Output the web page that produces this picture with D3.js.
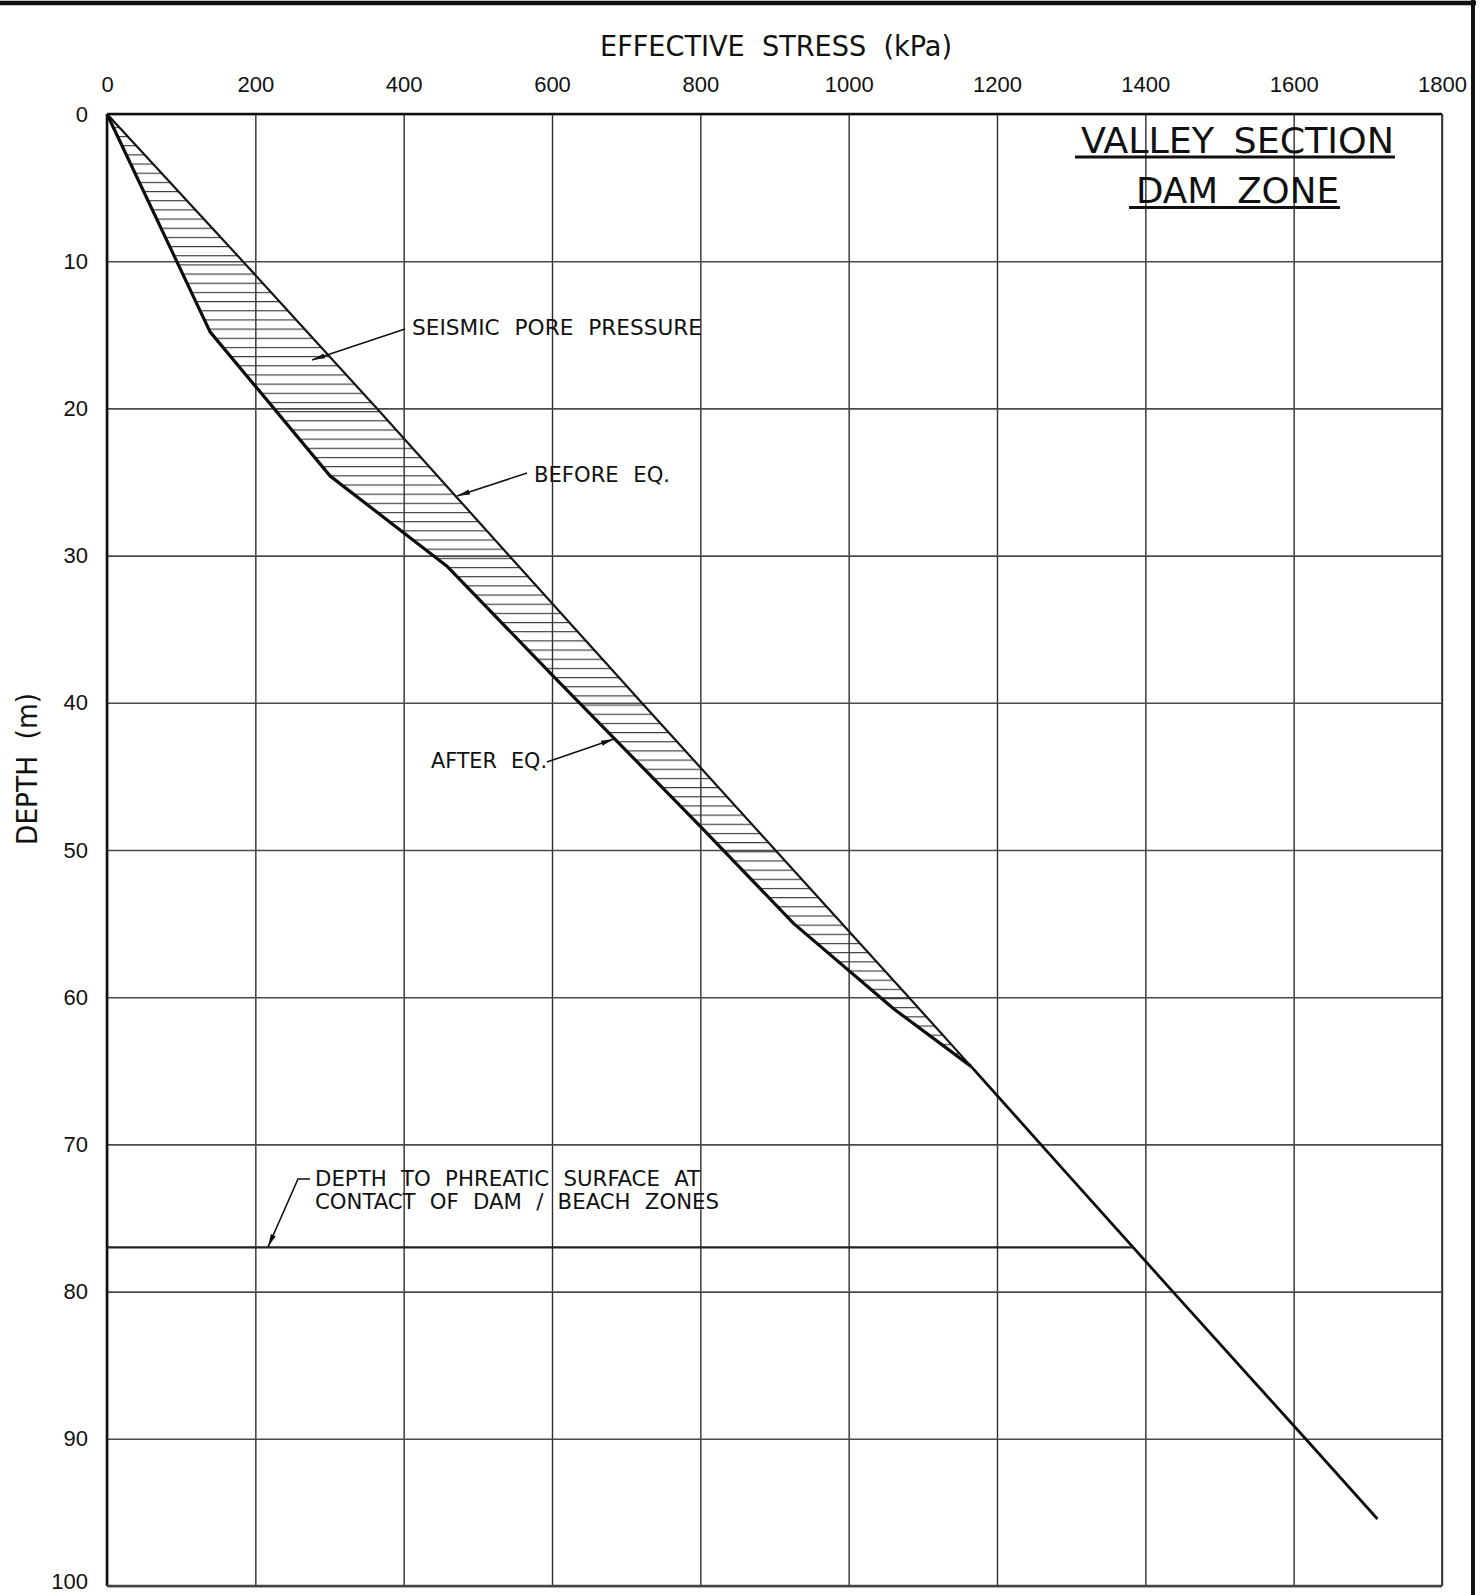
<!DOCTYPE html>
<html>
<head>
<meta charset="utf-8">
<script src="https://cdn.jsdelivr.net/npm/d3@7"></script>
<style>
  body { margin: 0; background: #fff; }
  svg { display: block; }
  .tick text { font-family: "Liberation Sans", Arial, sans-serif; font-size: 22px; fill: #111; }
  .note { font-family: "Liberation Sans Narrow", "DejaVu Sans Condensed", "Liberation Sans", sans-serif; fill: #111; }
</style>
</head>
<body>
<div id="chart-container"></div>
<script>
// axis ticks
const xTicks = [0, 200, 400, 600, 800, 1000, 1200, 1400, 1600, 1800];
const yTicks = [0, 10, 20, 30, 40, 50, 60, 70, 80, 90, 100];

// effective stress before the earthquake (depth m, kPa)
const beforeDepth = [0, 10, 20, 30, 40, 50, 60, 64.7];
const beforeStress = [0, 183, 364, 542, 721, 901, 1081, 1165];

// effective stress after the earthquake
const afterDepth = [0, 14.8, 24.6, 30.7, 38.2, 48.4, 55.0, 60.8, 64.7];
const afterStress = [0, 139, 301, 458, 602, 800, 926, 1061, 1165];

// common line below 64.7 m
const lowerDepth = [64.7, 70, 80, 90, 95.45];
const lowerStress = [1165, 1259, 1437, 1616, 1713];

// phreatic surface at contact of dam / beach zones
const phreaticDepth = 77;
const phreaticStress = 1383;

let width = 1481;
let height = 1595;

var svg = d3
  .select("#chart-container")
  .append("svg")
  .attr("width", width)
  .attr("height", height);

let xScale = d3.scaleLinear().domain([0, 1800]).range([107, 1442]);
let yScale = d3.scaleLinear().domain([0, 100]).range([114, 1586]);

let plotW = xScale(1800) - xScale(0);
let plotH = yScale(100) - yScale(0);

// hatch pattern for the seismic pore pressure band
svg
  .append("defs")
  .append("pattern")
  .attr("id", "hatch")
  .attr("patternUnits", "userSpaceOnUse")
  .attr("width", 40)
  .attr("height", 9.17)
  .attr("y", 7.6)
  .append("line")
  .attr("x1", 0)
  .attr("x2", 40)
  .attr("y1", 0.6)
  .attr("y2", 0.6)
  .attr("stroke", "#3a3a3a")
  .attr("stroke-width", 1.1);

// page frame
svg.append("line").attr("x1", 0).attr("x2", 1476).attr("y1", 3).attr("y2", 3)
  .attr("stroke", "#111").attr("stroke-width", 4.5);
svg.append("line").attr("x1", 1473).attr("x2", 1473).attr("y1", 0).attr("y2", height)
  .attr("stroke", "#111").attr("stroke-width", 4);

// X axis on top with vertical grid lines
let gx = svg
  .append("g")
  .attr("id", "x-axis")
  .attr("transform", "translate(0," + yScale(0) + ")")
  .call(d3.axisTop(xScale).tickValues(xTicks).tickFormat((d) => d).tickSize(-plotH).tickPadding(22));
gx.select(".domain").remove();
gx.selectAll(".tick line").attr("stroke", "#2e2e2e").attr("stroke-width", 1.4);

// Y axis with horizontal grid lines
let gy = svg
  .append("g")
  .attr("id", "y-axis")
  .attr("transform", "translate(" + xScale(0) + ",0)")
  .call(d3.axisLeft(yScale).tickValues(yTicks).tickFormat((d) => d).tickSize(-plotW).tickPadding(19));
gy.select(".domain").remove();
gy.selectAll(".tick line").attr("stroke", "#4a4a4a").attr("stroke-width", 1.6);
// last label sits on the page edge, lift it a little
gy.selectAll(".tick text").filter((d) => d === 100).attr("dy", "0.1em");

// plot frame
svg.append("line").attr("x1", xScale(0)).attr("x2", xScale(0)).attr("y1", yScale(0)).attr("y2", yScale(100))
  .attr("stroke", "#111").attr("stroke-width", 2.6);
svg.append("line").attr("x1", xScale(0)).attr("x2", xScale(1800)).attr("y1", yScale(0)).attr("y2", yScale(0))
  .attr("stroke", "#111").attr("stroke-width", 2.6);
svg.append("line").attr("x1", xScale(0)).attr("x2", xScale(1800)).attr("y1", yScale(100)).attr("y2", yScale(100))
  .attr("stroke", "#444").attr("stroke-width", 2.4);
svg.append("line").attr("x1", xScale(1800)).attr("x2", xScale(1800)).attr("y1", yScale(0)).attr("y2", yScale(100))
  .attr("stroke", "#333").attr("stroke-width", 1.6);

// axis titles
svg.append("text").attr("class", "note")
  .attr("x", 600).attr("y", 56)
  .attr("font-size", 28)
  .attr("textLength", 352).attr("lengthAdjust", "spacingAndGlyphs")
  .style("word-spacing", "8px")
  .text("EFFECTIVE STRESS (kPa)");

svg.append("text").attr("class", "note")
  .attr("transform", "translate(37,769) rotate(-90)")
  .attr("text-anchor", "middle")
  .attr("font-size", 29)
  .attr("textLength", 152).attr("lengthAdjust", "spacingAndGlyphs")
  .style("word-spacing", "8px")
  .text("DEPTH (m)");

// data lines
let toPoints = (depths, stresses) => depths.map((d, i) => [xScale(stresses[i]), yScale(d)]);
let line = d3.line();

let beforePts = toPoints(beforeDepth, beforeStress);
let afterPts = toPoints(afterDepth, afterStress);

svg.append("path")
  .attr("d", line(beforePts.concat(afterPts.slice().reverse())) + "Z")
  .attr("fill", "url(#hatch)")
  .attr("stroke", "none");

svg.append("path")
  .attr("d", line(beforePts))
  .attr("fill", "none").attr("stroke", "#151515").attr("stroke-width", 2.2);

svg.append("path")
  .attr("d", line(afterPts))
  .attr("fill", "none").attr("stroke", "#0d0d0d").attr("stroke-width", 3.2)
  .attr("stroke-linejoin", "round");

svg.append("path")
  .attr("d", line(toPoints(lowerDepth, lowerStress)))
  .attr("fill", "none").attr("stroke", "#0d0d0d").attr("stroke-width", 2.8);

// phreatic surface line
svg.append("line")
  .attr("x1", xScale(0)).attr("x2", xScale(phreaticStress))
  .attr("y1", yScale(phreaticDepth)).attr("y2", yScale(phreaticDepth))
  .attr("stroke", "#222").attr("stroke-width", 2.2);

// leader with a filled arrow head at the last point
function leader(pts) {
  svg.append("path")
    .attr("d", d3.line()(pts))
    .attr("fill", "none").attr("stroke", "#111").attr("stroke-width", 1.6);
  let [x1, y1] = pts[pts.length - 2];
  let [x2, y2] = pts[pts.length - 1];
  let a = Math.atan2(y2 - y1, x2 - x1);
  let L = 13, w = 2.6;
  let bx = x2 - L * Math.cos(a), by = y2 - L * Math.sin(a);
  let px = -Math.sin(a) * w, py = Math.cos(a) * w;
  svg.append("path")
    .attr("d", "M" + x2 + "," + y2 + "L" + (bx + px) + "," + (by + py) + "L" + (bx - px) + "," + (by - py) + "Z")
    .attr("fill", "#111");
}

function note(x, y, size, len, str) {
  svg.append("text").attr("class", "note")
    .attr("x", x).attr("y", y)
    .attr("font-size", size)
    .attr("textLength", len).attr("lengthAdjust", "spacingAndGlyphs")
    .style("word-spacing", "7px")
    .text(str);
}

note(412, 335, 21, 290, "SEISMIC PORE PRESSURE");
leader([[405, 329], [312, 360]]);

note(534, 482, 21, 136, "BEFORE EQ.");
leader([[527, 473], [457, 496]]);

note(431, 768, 21, 116, "AFTER EQ.");
leader([[547, 762], [614, 739]]);

note(315, 1186, 22, 385, "DEPTH TO PHREATIC SURFACE AT");
note(315, 1209, 22, 404, "CONTACT OF DAM / BEACH ZONES");
leader([[310, 1179], [298, 1179], [268, 1247]]);

// chart title, underlined
note(1081, 153, 36, 313, "VALLEY SECTION");
svg.append("line").attr("x1", 1075).attr("x2", 1395).attr("y1", 157).attr("y2", 157)
  .attr("stroke", "#111").attr("stroke-width", 3);
note(1136, 203, 36, 203, "DAM ZONE");
svg.append("line").attr("x1", 1129).attr("x2", 1340).attr("y1", 207.5).attr("y2", 207.5)
  .attr("stroke", "#111").attr("stroke-width", 3);
</script>
</body>
</html>
